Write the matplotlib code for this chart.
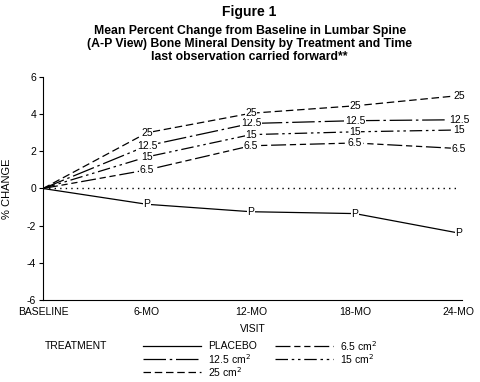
import matplotlib
matplotlib.use("Agg")
import matplotlib.pyplot as plt
from matplotlib.lines import Line2D

plt.rcParams["font.family"] = ["Liberation Sans", "DejaVu Sans"]
plt.rcParams["axes.unicode_minus"] = False

visits = ["BASELINE", "6-MO", "12-MO", "18-MO", "24-MO"]
placebo = [0.0, -0.85, -1.25, -1.35, -2.4]
dose_65 = [0.0, 1.0, 2.3, 2.45, 2.15]
dose_125 = [0.0, 2.3, 3.5, 3.65, 3.7]
dose_15 = [0.0, 1.7, 2.9, 3.05, 3.15]
dose_25 = [0.0, 3.0, 4.05, 4.45, 5.0]

series = [
    ("PLACEBO", "P", placebo, "-"),
    ("6.5 cm$^2$", "6.5", dose_65, (0, (12, 3, 5, 3, 5, 3))),
    ("12.5 cm$^2$", "12.5", dose_125, (0, (18, 3, 2, 3))),
    ("15 cm$^2$", "15", dose_15, (0, (10, 3, 2, 3, 2, 3))),
    ("25 cm$^2$", "25", dose_25, (0, (6, 3))),
]

fig = plt.figure(figsize=(4.8, 3.82), dpi=100)
ax = fig.add_axes([0.0896, 0.2147, 0.873, 0.5837])

x = list(range(len(visits)))
ax.plot([0, 4], [0, 0], color="black", lw=1.0, ls=(0, (1, 3)))

for name, tag, vals, ls in series:
    ax.plot(x, vals, color="black", lw=0.9, ls=ls, zorder=2)
    for xi, v in zip(x[1:], vals[1:]):
        ax.text(xi, v, tag, ha="center", va="center", fontsize=7.5,
                bbox=dict(facecolor="white", edgecolor="none", pad=0.3), zorder=3)

ax.set_xlim(0, 4.03)
ax.set_ylim(-6, 6)
ax.set_yticks([-6, -4, -2, 0, 2, 4, 6])
ax.set_xticks(x)
ax.set_xticklabels(visits, fontsize=7.5)
ax.tick_params(axis="x", length=0, pad=5)
ax.tick_params(axis="y", length=3, labelsize=7.5, pad=2)
for s in ["top", "right"]:
    ax.spines[s].set_visible(False)
ax.set_xlabel("VISIT", fontsize=7.5, labelpad=5)
ax.set_ylabel("% CHANGE", fontsize=8)
ax.yaxis.set_label_coords(-0.074, 0.5)

fig.text(0.52, 0.968, "Figure 1", ha="center", va="center", fontsize=10, fontweight="bold")
fig.text(0.52, 0.885,
         "Mean Percent Change from Baseline in Lumbar Spine\n"
         "(A-P View) Bone Mineral Density by Treatment and Time\n"
         "last observation carried forward**",
         ha="center", va="center", fontsize=8.8, fontweight="bold", linespacing=1.1)

# legend
fig.text(0.094, 0.094, "TREATMENT", ha="left", va="center", fontsize=7.5)
leg_pos = [(0.298, 0.094), (0.573, 0.094), (0.298, 0.060), (0.573, 0.060), (0.298, 0.026)]
for (name, tag, vals, ls), (lx, ly) in zip(series, leg_pos):
    fig.add_artist(Line2D([lx, lx + 0.12], [ly, ly], color="black", lw=0.9, ls=ls,
                          transform=fig.transFigure))
    fig.text(lx + 0.135, ly, name, ha="left", va="center", fontsize=7.5)

fig.savefig("out.png", dpi=100)
